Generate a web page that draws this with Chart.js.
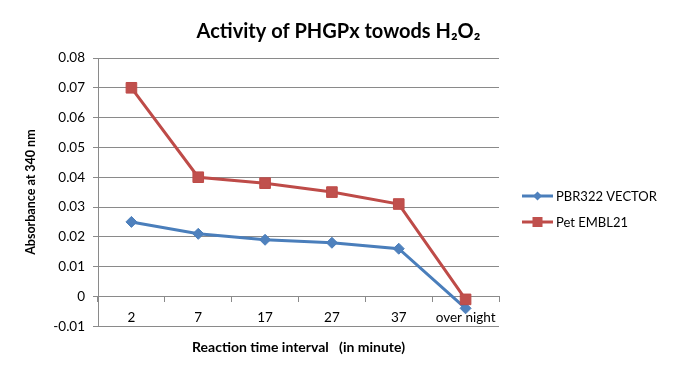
<!DOCTYPE html>
<html>
<head>
<meta charset="utf-8">
<script src="https://cdn.jsdelivr.net/npm/chart.js@4"></script>
<style>
  html, body { margin: 0; padding: 0; background: #fff; }
  #wrap { width: 677px; height: 375px; position: relative; }
</style>
</head>
<body>
<div id="wrap"><canvas id="activity"></canvas></div>
<script>
"use strict";

// Data
const timeLabels = ["2", "7", "17", "27", "37", "over night"];
const vectorValues = [0.025, 0.021, 0.019, 0.018, 0.016, -0.004];
const emblValues = [0.070, 0.040, 0.038, 0.035, 0.031, -0.001];
const seriesNames = ["PBR322 VECTOR", "Pet EMBL21"];
const yMin = -0.01;
const yMax = 0.08;
const yStep = 0.01;

const gridGrey = "#8a8a8a";
const fontName = "Lato, 'Open Sans', sans-serif";

// legend drawn by hand (line with marker in the middle)
const sideLegend = {
  id: "sideLegend",
  afterDraw(chart) {
    const ctx = chart.ctx;
    const rows = [196, 222];
    chart.data.datasets.forEach((ds, i) => {
      const y = rows[i];
      ctx.save();
      ctx.strokeStyle = ds.borderColor;
      ctx.lineWidth = 3;
      ctx.beginPath();
      ctx.moveTo(522, y);
      ctx.lineTo(553, y);
      ctx.stroke();
      ctx.fillStyle = ds.pointBackgroundColor;
      if (ds.pointStyle === "rectRot") {
        ctx.beginPath();
        ctx.moveTo(537.5 - 4.5, y);
        ctx.lineTo(537.5, y - 4.5);
        ctx.lineTo(537.5 + 4.5, y);
        ctx.lineTo(537.5, y + 4.5);
        ctx.closePath();
        ctx.fill();
      } else {
        ctx.fillRect(537.5 - 5, y - 5, 10, 10);
      }
      ctx.fillStyle = "#000";
      ctx.font = "13px " + fontName;
      ctx.textBaseline = "middle";
      ctx.textAlign = "left";
      ctx.fillText(ds.label, 556, y + 0.5);
      ctx.restore();
    });
  }
};

const activity = document.getElementById("activity");

new Chart(activity, {
  type: "line",
  data: {
    labels: timeLabels,
    datasets: [
      {
        label: seriesNames[0],
        data: vectorValues,
        borderColor: "#4A7EBB",
        backgroundColor: "#4F81BD",
        pointBackgroundColor: "#4F81BD",
        pointBorderColor: "#4A7EBB",
        pointStyle: "rectRot",
        pointRadius: 5.5,
        pointBorderWidth: 1,
        borderWidth: 3,
        tension: 0,
        order: 1,
      },
      {
        label: seriesNames[1],
        data: emblValues,
        borderColor: "#BE4B48",
        backgroundColor: "#C0504D",
        pointBackgroundColor: "#C0504D",
        pointBorderColor: "#BE4B48",
        pointStyle: "rect",
        pointRadius: 7.5,
        pointBorderWidth: 1,
        borderWidth: 3,
        tension: 0,
        order: 0,
      },
    ],
  },
  options: {
    responsive: true,
    maintainAspectRatio: false,
    animation: false,
    layout: { padding: 0 },
    plugins: {
      legend: { display: false },
      tooltip: { enabled: false },
      title: {
        display: true,
        text: "Activity of PHGPx towods H₂O₂",
        color: "#000",
        font: { family: fontName, size: 20, weight: "bold" },
        padding: { top: 20, bottom: 14 },
      },
      subtitle: {
        display: true,
        fullSize: false,
        position: "bottom",
        text: "Reaction time interval   (in minute)",
        color: "#000",
        font: { family: fontName, size: 14, weight: "bold" },
        padding: { top: 13, bottom: 19 },
      },
    },
    scales: {
      x: {
        position: { y: 0 },
        offset: true,
        grid: {
          display: true,
          offset: true,
          drawOnChartArea: false,
          drawTicks: true,
          tickLength: 5,
          color: gridGrey,
        },
        border: { display: true, color: gridGrey, width: 1 },
        ticks: {
          color: "#000",
          padding: 8,
          maxRotation: 0,
          autoSkip: false,
          font: { family: fontName, size: 13.5 },
        },
      },
      y: {
        min: yMin,
        max: yMax,
        afterFit(scale) { scale.width = 98; },
        ticks: {
          stepSize: yStep,
          color: "#000",
          padding: 8,
          font: { family: fontName, size: 13.5 },
          callback: (v) => String(Math.round(v * 100) / 100),
        },
        grid: { color: gridGrey, tickLength: 5 },
        border: { color: gridGrey },
        title: {
          display: true,
          text: "Absorbance at 340 nm",
          color: "#000",
          font: { family: fontName, size: 12.5, weight: "bold" },
          padding: { top: 23 },
        },
      },
      // empty right-hand scale keeps room for the legend without shifting the title
      legendSpace: {
        type: "linear",
        position: "right",
        display: true,
        afterFit(scale) { scale.width = 178; },
        ticks: { display: false },
        grid: { display: false, drawTicks: false },
        border: { display: false },
      },
    },
  },
  plugins: [sideLegend],
});
</script>
</body>
</html>
